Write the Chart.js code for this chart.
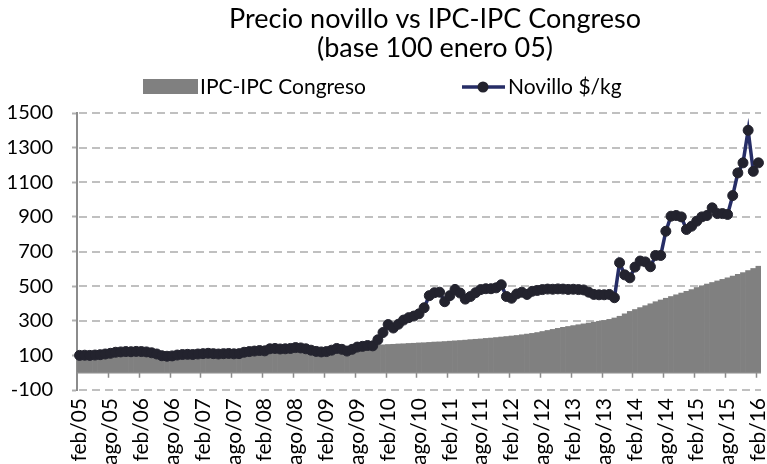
<!DOCTYPE html>
<html>
<head>
<meta charset="utf-8">
<script src="https://cdn.jsdelivr.net/npm/chart.js@4.4.1/dist/chart.umd.min.js"></script>
<style>
  html, body { margin: 0; padding: 0; background: #fff; }
</style>
</head>
<body>
<canvas id="chart" width="767" height="464"></canvas>
<script>
const titleLines = ['Precio novillo vs IPC-IPC Congreso', '(base 100 enero 05)'];
const seriesNames = ['IPC-IPC Congreso', 'Novillo $/kg'];
const monthNames = ['ene', 'feb', 'mar', 'abr', 'may', 'jun', 'jul', 'ago', 'sep', 'oct', 'nov', 'dic'];

// shown every 6 months
const tickLabels = ['feb/05', 'ago/05', 'feb/06', 'ago/06', 'feb/07', 'ago/07', 'feb/08', 'ago/08',
  'feb/09', 'ago/09', 'feb/10', 'ago/10', 'feb/11', 'ago/11', 'feb/12', 'ago/12', 'feb/13',
  'ago/13', 'feb/14', 'ago/14', 'feb/15', 'ago/15', 'feb/16'];

// IPC-IPC Congreso, feb/05 .. feb/16
const ipc = [
  100, 101, 102, 103, 103, 104, 105, 105, 106, 107, 107, 108,
  108, 109, 110, 111, 111, 112, 113, 114, 115, 116, 117, 118,
  118, 119, 120, 121, 122, 123, 124, 125, 126, 127, 128, 129,
  130, 131, 132, 133, 135, 136, 137, 138, 139, 141, 142, 143,
  145, 146, 147, 149, 150, 151, 153, 154, 156, 157, 159, 161,
  163, 164, 166, 167, 169, 170, 172, 173, 175, 177, 178, 180,
  182, 184, 186, 188, 191, 193, 195, 198, 200, 203, 206, 209,
  212, 215, 219, 223, 227, 232, 238, 244, 250, 256, 262, 267,
  272, 277, 282, 287, 292, 297, 302, 308, 316, 326, 340, 354,
  365, 376, 387, 398, 410, 420, 430, 440, 450, 460, 470, 480,
  492, 502, 512, 521, 530, 539, 548, 558, 568, 578, 590, 602,
  615
];

// Novillo $/kg, feb/05 .. feb/16
const novillo = [
  100, 101, 100, 102, 104, 108, 112, 118, 120, 122, 121, 123,
  122, 120, 115, 108, 98, 95, 97, 102, 105, 106, 105, 108,
  110, 112, 110, 108, 110, 111, 109, 110, 118, 122, 125, 128,
  126, 138, 140, 137, 138, 140, 145, 143, 138, 130, 123, 120,
  122, 130, 140, 135, 125, 135, 148, 152, 157, 155, 190, 232,
  278, 258, 280, 304, 318, 327, 340, 375, 445, 462, 465, 410,
  445, 481, 460, 425, 440, 462, 480, 485, 485, 490, 508, 440,
  430, 455, 465, 452, 470, 475, 480, 483, 482, 484, 483, 481,
  482, 480, 478, 465, 452, 450, 450, 452, 433, 635, 565, 548,
  610, 645, 640, 612, 677, 677, 817, 904, 908, 900, 827, 846,
  875, 900, 908, 952, 919, 919, 914, 1023, 1154, 1212, 1400, 1163,
  1212
];

// monthly categories starting at feb/05
const categories = [];
for (let i = 0; i < ipc.length; i++) {
  const m = (1 + i) % 12;
  const yy = 5 + Math.floor((1 + i) / 12);
  categories.push(monthNames[m] + '/' + String(yy).padStart(2, '0'));
}

const ipcColor = '#808080';
const lineColor = '#262d66';
const markerColor = '#23232e';
const gridColor = '#c0c0c0';

// title + legend drawn above the plot
const header = {
  id: 'header',
  afterDraw(chart) {
    const ctx = chart.ctx;
    ctx.save();
    ctx.fillStyle = '#000';
    ctx.textBaseline = 'middle';
    ctx.textAlign = 'center';
    ctx.font = '27px Lato';
    titleLines.forEach((t, k) => ctx.fillText(t, 435, 19 + k * 29));

    ctx.textAlign = 'left';
    ctx.font = '21px Lato';
    // IPC box
    ctx.fillStyle = ipcColor;
    ctx.fillRect(143, 79, 55, 15);
    ctx.fillStyle = '#000';
    ctx.fillText(seriesNames[0], 200, 87);
    // novillo line + marker
    ctx.strokeStyle = lineColor;
    ctx.lineWidth = 3.5;
    ctx.beginPath();
    ctx.moveTo(462, 87);
    ctx.lineTo(505, 87);
    ctx.stroke();
    ctx.fillStyle = markerColor;
    ctx.beginPath();
    ctx.arc(483, 87, 5.5, 0, Math.PI * 2);
    ctx.fill();
    ctx.fillStyle = '#000';
    ctx.fillText(seriesNames[1], 508, 87);
    ctx.restore();
  }
};

// dashed horizontal grid behind the data
const dashedGrid = {
  id: 'dashedGrid',
  beforeDatasetsDraw(chart) {
    const { ctx, chartArea, scales } = chart;
    const y = scales.y;
    ctx.save();
    ctx.strokeStyle = gridColor;
    ctx.lineWidth = 2;
    ctx.setLineDash([8, 5]);
    y.ticks.forEach(t => {
      const py = Math.round(y.getPixelForValue(t.value));
      ctx.beginPath();
      ctx.moveTo(chartArea.left + 2, py);
      ctx.lineTo(chartArea.right, py);
      ctx.stroke();
    });
    ctx.restore();
  }
};

// category axis crosses at 0, ticks every 6 months
const zeroAxis = {
  id: 'zeroAxis',
  afterDatasetsDraw(chart) {
    const { ctx, chartArea, scales } = chart;
    const x = scales.x, y = scales.y;
    const y0 = y.getPixelForValue(0);
    const half = (x.getPixelForValue(1) - x.getPixelForValue(0)) / 2;
    ctx.save();
    ctx.strokeStyle = '#8c8c8c';
    ctx.lineWidth = 1.5;
    ctx.beginPath();
    ctx.moveTo(chartArea.left, y0);
    ctx.lineTo(chartArea.right, y0);
    for (let i = 6; i < ipc.length; i += 6) {
      const px = Math.round(x.getPixelForValue(i) - half) + 0.5;
      ctx.moveTo(px, y0);
      ctx.lineTo(px, y0 + 5);
    }
    ctx.stroke();
    ctx.restore();
  }
};

Chart.defaults.font.family = 'Lato';
Chart.defaults.color = '#000';

new Chart(document.getElementById('chart'), {
  type: 'bar',
  data: {
    labels: categories,
    datasets: [
      {
        type: 'line',
        label: seriesNames[1],
        data: novillo,
        order: 0,
        borderColor: lineColor,
        borderWidth: 3.5,
        pointRadius: 5,
        pointBorderWidth: 1,
        pointBackgroundColor: markerColor,
        pointBorderColor: markerColor,
        tension: 0
      },
      {
        type: 'bar',
        label: seriesNames[0],
        data: ipc,
        order: 1,
        backgroundColor: ipcColor,
        borderWidth: 0,
        barPercentage: 1,
        categoryPercentage: 1
      }
    ]
  },
  options: {
    responsive: false,
    animation: false,
    events: [],
    layout: { padding: { top: 113, left: 0, right: 0, bottom: 0 } },
    plugins: {
      legend: { display: false },
      title: { display: false },
      tooltip: { enabled: false }
    },
    scales: {
      x: {
        grid: { display: false, drawTicks: false },
        border: { display: false },
        ticks: {
          autoSkip: false,
          minRotation: 90,
          maxRotation: 90,
          padding: 8,
          font: { size: 21 },
          callback: (v, i) => (i % 6 === 0 ? tickLabels[i / 6] : '')
        },
        afterFit: s => { s.height = 74; s.paddingLeft = 0; s.paddingRight = 0; }
      },
      y: {
        min: -100,
        max: 1500,
        ticks: { stepSize: 200, padding: 19, font: { size: 20 }, callback: v => String(v) },
        grid: {
          drawOnChartArea: false,
          tickLength: 5,
          tickColor: '#b0b0b0',
          tickWidth: 2
        },
        border: { display: true, color: '#8c8c8c', width: 2 },
        afterFit: s => { s.width = 77; }
      }
    }
  },
  plugins: [dashedGrid, header, zeroAxis]
});
</script>
</body>
</html>
